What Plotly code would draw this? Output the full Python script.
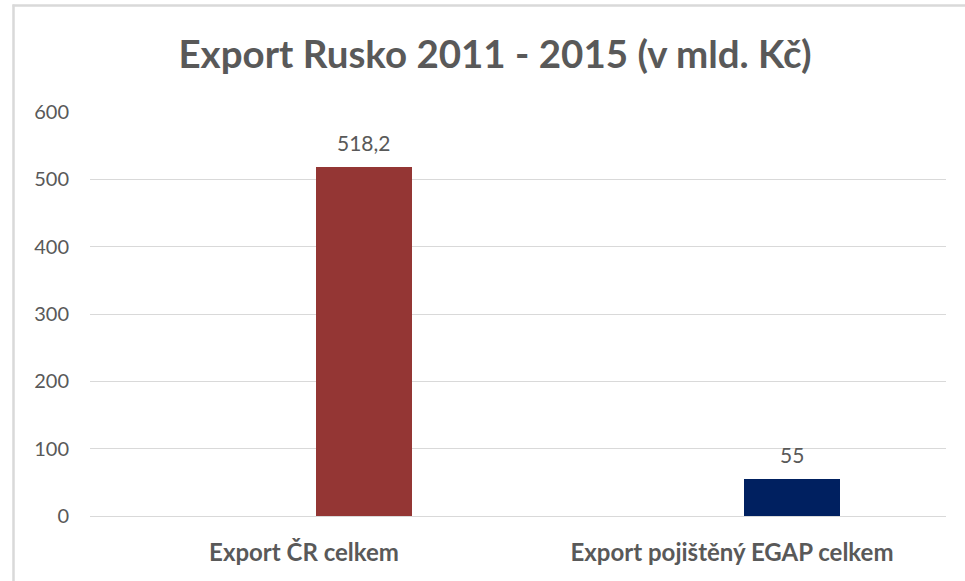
import plotly.graph_objects as go

categories = ["Export ČR celkem", "Export pojištěný EGAP celkem"]
values = [518.2, 55]
bar_colors = ["#943634", "#002060"]
y_ticks = [0, 100, 200, 300, 400, 500, 600]

labels = [f"{v:g}".replace(".", ",") for v in values]

FONT = "Lato, 'Noto Sans', sans-serif"
GRAY = "#595959"
LINE = "#d9d9d9"

BAR_OFFSET = 0.028
BAR_WIDTH = 0.224

fig = go.Figure()
fig.add_trace(go.Bar(
    x=categories, y=values,
    marker=dict(color=bar_colors, line=dict(width=0)),
    width=BAR_WIDTH, offset=BAR_OFFSET,
    showlegend=False, hoverinfo="x+y",
))

annotations = []
for i, (v, t) in enumerate(zip(values, labels)):
    annotations.append(dict(
        x=i + BAR_OFFSET + BAR_WIDTH / 2, y=v, xref="x", yref="y",
        text=t, showarrow=False, yanchor="bottom", xanchor="center",
        yshift=10, font=dict(size=21, color=GRAY, family=FONT),
    ))

W, H = 965, 581
ml, mr, mt, mb = 90, 19, 112, 65
pw, ph = W - ml - mr, H - mt - mb

def px_x(x):
    return (x - ml) / pw

def px_y(y):
    return (H - mb - y) / ph

fig.update_layout(
    width=W, height=H,
    margin=dict(l=ml, r=mr, t=mt, b=mb, autoexpand=False),
    paper_bgcolor="white", plot_bgcolor="white",
    title=dict(text="<b>Export Rusko 2011 - 2015 (v mld. Kč)</b>",
               x=495 / W, xanchor="center", xref="container",
               y=1 - 55 / H, yanchor="middle", yref="container",
               font=dict(size=38.5, color=GRAY, family=FONT)),
    font=dict(family=FONT, color=GRAY),
    bargap=0,
    annotations=annotations,
    shapes=[
        dict(type="line", xref="paper", yref="paper",
             x0=px_x(13.5), x1=px_x(13.5), y0=px_y(H + 10), y1=px_y(4.5),
             line=dict(color=LINE, width=2.5)),
        dict(type="line", xref="paper", yref="paper",
             x0=px_x(12.5), x1=px_x(W + 10), y0=px_y(5.5), y1=px_y(5.5),
             line=dict(color=LINE, width=2.5)),
    ],
)
fig.update_yaxes(range=[0, 600], tickvals=y_ticks, showgrid=True,
                 gridcolor=LINE, gridwidth=1, zeroline=False,
                 showline=False, ticks="", ticklabelstandoff=20,
                 tickfont=dict(size=20, color=GRAY, family=FONT))
fig.update_xaxes(showgrid=False, showline=True, linecolor=LINE,
                 linewidth=1, ticks="", ticklabelstandoff=15,
                 tickfont=dict(size=24, color=GRAY, family=FONT),
                 tickprefix="<b>", ticksuffix="</b>")

fig.write_html("out.html", config={"displayModeBar": False},
               post_script="document.body.style.margin='0';")
